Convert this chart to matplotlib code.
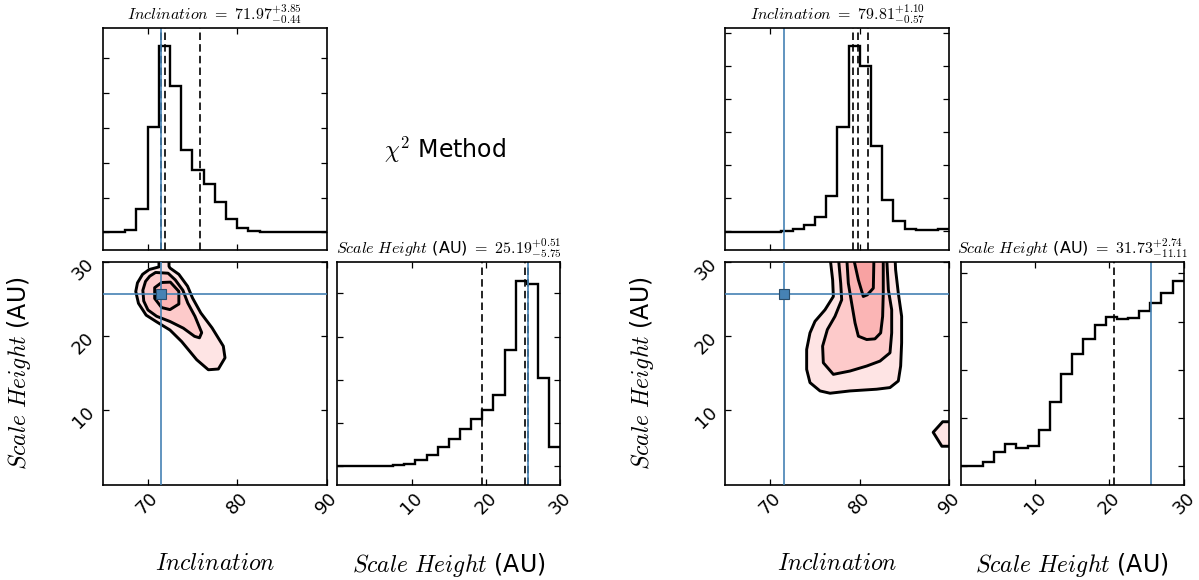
import matplotlib

matplotlib.use("Agg")
import matplotlib.pyplot as plt
import numpy as np
from matplotlib.patches import Polygon

plt.rcParams["mathtext.fontset"] = "cm"
plt.rcParams["font.family"] = ["DejaVu Sans"]

# parameter ranges / binning of the 1D marginals
INC_RANGE = (65, 90)
SH_RANGE = (0, 30)
N_BINS = 20

TRUTH_INC = 71.55
TRUTH_SH = 25.6

# ---- left corner (chi^2 method) ----
LEFT_INC_HIST = [0.090, 0.090, 0.098, 0.201, 0.604, 1.000, 0.804, 0.489, 0.392, 0.326,
                 0.235, 0.155, 0.109, 0.095, 0.090, 0.090, 0.090, 0.090, 0.090, 0.090]
LEFT_SH_HIST = [0.089, 0.089, 0.089, 0.089, 0.091, 0.096, 0.101, 0.119, 0.146, 0.182,
                0.224, 0.270, 0.319, 0.367, 0.441, 0.662, 1.000, 0.984, 0.524, 0.185]
LEFT_INC_Q = [71.53, 71.97, 75.82]
LEFT_SH_Q = [19.44, 25.19, 25.70]
LEFT_INC_TITLE = r"$Inclination\ =\ 71.97_{-0.44}^{+3.85}$"
LEFT_SH_TITLE = r"$Scale\ Height$ (AU) $=\ 25.19_{-5.75}^{+0.51}$"

# credible-region outlines (inclination, scale height), outer -> inner
LEFT_LEVEL1 = [(71.28, 30.6), (71.28, 29.30), (70.20, 28.95), (69.45, 28.30), (68.88, 27.15),
               (68.69, 25.99), (68.99, 24.40), (69.85, 22.80), (71.02, 21.90), (72.51, 20.80),
               (73.81, 19.25), (75.49, 16.80), (76.79, 15.45), (77.91, 15.55), (78.65, 17.06),
               (78.46, 18.63), (77.20, 21.10), (75.95, 23.10), (75.03, 25.10), (74.47, 26.70),
               (73.50, 28.30), (72.51, 29.15), (72.40, 29.38), (72.40, 30.6)]
LEFT_LEVEL2 = [(70.90, 28.55), (72.30, 28.45), (73.10, 27.55), (73.95, 26.15), (74.50, 24.43),
               (75.30, 22.64), (76.05, 20.45), (75.80, 19.75), (75.25, 19.95), (74.00, 21.05),
               (72.51, 21.95), (71.02, 22.65), (70.05, 23.50), (69.58, 24.70), (69.48, 26.15),
               (69.78, 27.35), (70.25, 28.05)]
LEFT_LEVEL3 = [(70.80, 26.50), (71.58, 27.20), (72.55, 27.25), (73.50, 26.00), (73.50, 24.30),
               (72.51, 23.55), (71.58, 23.82), (70.80, 25.05)]

# ---- right corner ----
RIGHT_INC_HIST = [0.090, 0.090, 0.090, 0.090, 0.090, 0.095, 0.103, 0.127, 0.163, 0.264,
                  0.604, 1.000, 0.904, 0.511, 0.245, 0.144, 0.106, 0.098, 0.100, 0.104]
RIGHT_SH_HIST = [0.090, 0.093, 0.109, 0.160, 0.199, 0.178, 0.188, 0.269, 0.405, 0.543,
                 0.641, 0.713, 0.783, 0.824, 0.812, 0.816, 0.852, 0.892, 0.941, 1.000]
RIGHT_INC_Q = [79.24, 79.81, 80.91]
RIGHT_SH_Q = [20.62, 31.73, 34.47]
RIGHT_INC_TITLE = r"$Inclination\ =\ 79.81_{-0.57}^{+1.10}$"
RIGHT_SH_TITLE = r"$Scale\ Height$ (AU) $=\ 31.73_{-11.11}^{+2.74}$"

RIGHT_LEVEL1 = [(76.69, 30.6), (76.98, 27.55), (77.06, 25.32), (76.13, 23.53), (75.01, 21.97),
                (74.45, 20.41), (74.08, 18.18), (74.08, 15.50), (74.45, 13.72), (75.57, 12.60),
                (76.69, 12.29), (78.92, 12.60), (81.89, 12.83), (83.38, 13.05), (84.31, 13.94),
                (84.57, 15.95), (84.68, 19.07), (84.68, 22.64), (84.31, 25.76), (84.01, 28.89),
                (83.94, 30.6)]
RIGHT_LEVEL1_B = [(90.4, 8.45), (89.26, 8.45), (88.20, 7.03), (89.17, 5.15), (90.4, 5.15)]
RIGHT_LEVEL2 = [(77.62, 30.6), (77.88, 27.10), (77.99, 24.87), (77.24, 22.64), (76.39, 20.86),
                (75.86, 18.63), (75.94, 16.39), (77.06, 14.83), (78.92, 15.28), (80.78, 15.95),
                (82.27, 16.62), (83.38, 17.73), (83.57, 20.41), (83.57, 23.53), (83.20, 26.21),
                (83.01, 30.6)]
RIGHT_LEVEL3 = [(78.55, 30.6), (78.73, 27.10), (79.10, 24.43), (79.48, 21.75), (79.85, 19.97),
                (80.78, 19.52), (81.70, 19.61), (82.34, 20.41), (82.56, 22.64), (82.63, 25.76),
                (82.63, 30.6)]
RIGHT_LEVEL4 = [(79.29, 30.6), (79.85, 27.55), (80.40, 25.32), (80.85, 25.54), (81.52, 26.43),
                (81.59, 30.6)]

LEVEL_COLORS = ["#fee4e4", "#fdcaca", "#fbb5b5", "#f8a2a2"]
BLUE = "#4682b4"
W, H = 1199, 580


def fig_rect(x0, y0, x1, y1):
    return [x0 / W, (H - y1) / H, (x1 - x0) / W, (y1 - y0) / H]


def style_axes(ax):
    for sp in ax.spines.values():
        sp.set_linewidth(1.2)
    ax.tick_params(direction="in", length=4, width=0.9, top=True, right=True,
                   labelsize=13)


def hist_panel(ax, heights, rng, quantiles, title, tick0, tick_step, top):
    edges = np.linspace(rng[0], rng[1], N_BINS + 1)
    ax.stairs(heights, edges, baseline=None, color="k", linewidth=1.7)
    for q in quantiles:
        ax.axvline(q, color="k", linestyle=(0, (4.5, 2.5)), linewidth=1.2)
    ax.set_xlim(*rng)
    ax.set_ylim(0, top)
    ax.set_yticks(np.arange(tick0, top, tick_step))
    ax.set_yticklabels([])
    ax.set_title(title, fontsize=11.5)
    style_axes(ax)


def contour_panel(ax, levels):
    for verts, color in levels:
        ax.add_patch(Polygon(verts, closed=True, facecolor=color, edgecolor="k",
                             linewidth=2.1, joinstyle="round", zorder=2))
    ax.axvline(TRUTH_INC, color=BLUE, linewidth=1.2, zorder=3)
    ax.axhline(TRUTH_SH, color=BLUE, linewidth=1.2, zorder=3)
    ax.plot([TRUTH_INC], [TRUTH_SH], "s", color=BLUE, markersize=7.5,
            markeredgecolor="#2a4d6b", markeredgewidth=0.8, zorder=4)
    ax.set_xlim(*INC_RANGE)
    ax.set_ylim(*SH_RANGE)
    ax.set_xticks([70, 80, 90])
    ax.set_yticks([10, 20, 30])
    style_axes(ax)
    for lab in ax.get_xticklabels() + ax.get_yticklabels():
        lab.set_rotation(45)
    ax.set_xlabel(r"$Inclination$", fontsize=17)
    ax.xaxis.set_label_coords(0.5, -0.30)
    ax.set_ylabel(r"$Scale\ Height$ (AU)", fontsize=17)
    ax.yaxis.set_label_coords(-0.31, 0.5)


def corner(fig, x_left, x_side, inc_hist, sh_hist, inc_q, sh_q, inc_title, sh_title,
           levels, inc_ticks, sh_ticks):
    ax_top = fig.add_axes(fig_rect(x_left, 28.3, x_left + 224, 250.5))
    ax_2d = fig.add_axes(fig_rect(x_left, 261.7, x_left + 224, 484.5))
    ax_side = fig.add_axes(fig_rect(x_side, 261.7, x_side + 223, 484.5))

    hist_panel(ax_top, inc_hist, INC_RANGE, inc_q, inc_title, *inc_ticks, 1.086)
    ax_top.set_xticks([70, 80])
    ax_top.set_xticklabels([])
    ax_top.axvline(TRUTH_INC, color=BLUE, linewidth=1.2)

    contour_panel(ax_2d, levels)

    hist_panel(ax_side, sh_hist, SH_RANGE, sh_q, sh_title, *sh_ticks, 1.093)
    ax_side.axvline(TRUTH_SH, color=BLUE, linewidth=1.2)
    ax_side.set_xticks([10, 20, 30])
    for lab in ax_side.get_xticklabels():
        lab.set_rotation(45)
    ax_side.set_xlabel(r"$Scale\ Height$ (AU)", fontsize=17)
    ax_side.xaxis.set_label_coords(0.5, -0.30)


def main():
    fig = plt.figure(figsize=(W / 100, H / 100), dpi=100)

    corner(fig, 102.7, 337.3, LEFT_INC_HIST, LEFT_SH_HIST, LEFT_INC_Q, LEFT_SH_Q,
           LEFT_INC_TITLE, LEFT_SH_TITLE,
           [(LEFT_LEVEL1, LEVEL_COLORS[0]), (LEFT_LEVEL2, LEVEL_COLORS[1]),
            (LEFT_LEVEL3, LEVEL_COLORS[2])],
           (0.088, 0.171), (0.0897, 0.212))

    corner(fig, 725.3, 960.7, RIGHT_INC_HIST, RIGHT_SH_HIST, RIGHT_INC_Q, RIGHT_SH_Q,
           RIGHT_INC_TITLE, RIGHT_SH_TITLE,
           [(RIGHT_LEVEL1, LEVEL_COLORS[0]), (RIGHT_LEVEL1_B, LEVEL_COLORS[0]),
            (RIGHT_LEVEL2, LEVEL_COLORS[1]), (RIGHT_LEVEL3, LEVEL_COLORS[2]),
            (RIGHT_LEVEL4, LEVEL_COLORS[3])],
           (0.093, 0.1615), (0.0897, 0.2365))

    fig.text(0.371, 0.741, r"$\chi^2$ Method", fontsize=17, ha="center", va="center")

    fig.savefig("out.png", dpi=100)


if __name__ == "__main__":
    main()
